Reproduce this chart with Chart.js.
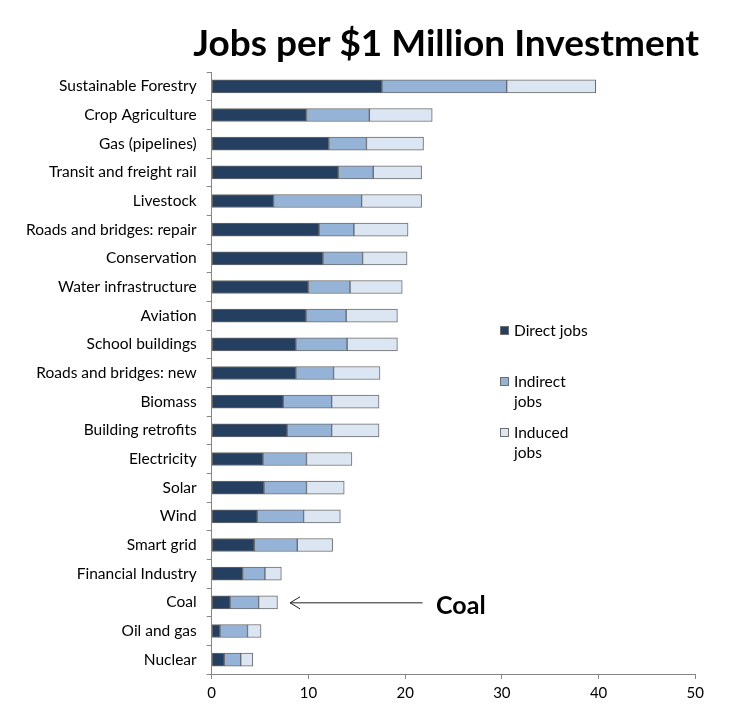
<!DOCTYPE html>
<html>
<head>
<meta charset="utf-8">
<script src="https://cdn.jsdelivr.net/npm/chart.js@4/dist/chart.umd.min.js"></script>
<style>
html,body{margin:0;padding:0;background:#fff;}
#wrap{width:732px;height:722px;position:relative;}
</style>
</head>
<body>
<div id="wrap"><canvas id="c"></canvas></div>
<script>
const categories = ["Sustainable Forestry","Crop Agriculture","Gas (pipelines)","Transit and freight rail","Livestock","Roads and bridges: repair","Conservation","Water infrastructure","Aviation","School buildings","Roads and bridges: new","Biomass","Building retrofits","Electricity","Solar","Wind","Smart grid","Financial Industry","Coal","Oil and gas","Nuclear"];
const directJobs   = [17.6, 9.8, 12.1, 13.1, 6.4, 11.1, 11.5, 10.0, 9.75, 8.7, 8.7, 7.4, 7.8, 5.3, 5.4, 4.7, 4.4, 3.2, 1.9, 0.85, 1.3];
const indirectJobs = [12.9, 6.5, 3.9, 3.6, 9.1, 3.6, 4.1, 4.3, 4.15, 5.3, 3.9, 5.0, 4.6, 4.5, 4.4, 4.8, 4.45, 2.3, 2.95, 2.85, 1.7];
const inducedJobs  = [9.2, 6.5, 5.9, 5.0, 6.2, 5.6, 4.6, 5.4, 5.3, 5.2, 4.8, 4.9, 4.9, 4.7, 3.9, 3.8, 3.65, 1.7, 1.95, 1.4, 1.25];
const xTicks = [0, 10, 20, 30, 40, 50];
const seriesNames = ["Direct jobs", "Indirect jobs", "Induced jobs"];
const legendLines = [["Direct jobs"], ["Indirect", "jobs"], ["Induced", "jobs"]];
const titleText = "Jobs per $1 Million Investment";
const noteText = "Coal";
const noteCategory = "Coal";
const noteArrowFrom = 21.8;
const noteArrowTo = 8.1;
const noteTextAt = 23.2;

const colors = ["#243F60", "#95B3D7", "#DCE6F2"];
const FONT = "Lato, 'Open Sans', sans-serif";

const overlay = {
  id: 'overlay',
  afterDraw(chart) {
    const ctx = chart.ctx;
    const xs = chart.scales.x, ys = chart.scales.y;
    ctx.save();
    // title
    let size = 36;
    ctx.font = "bold " + size + "px " + FONT;
    const target = 506;
    const w = ctx.measureText(titleText).width;
    size = size * target / w;
    ctx.font = "bold " + size.toFixed(2) + "px " + FONT;
    ctx.fillStyle = "#000";
    ctx.textAlign = "right";
    ctx.textBaseline = "alphabetic";
    ctx.fillText(titleText, 699, 56);

    // legend
    ctx.textAlign = "left";
    ctx.textBaseline = "middle";
    ctx.font = "15.5px " + FONT;
    const ly = [331, 382, 433];
    for (let i = 0; i < 3; i++) {
      ctx.fillStyle = colors[i];
      ctx.fillRect(500, ly[i] - 5, 9, 9);
      ctx.strokeStyle = "#6e6e6e";
      ctx.lineWidth = 1;
      ctx.strokeRect(500.5, ly[i] - 4.5, 8, 8);
      ctx.fillStyle = "#000";
      legendLines[i].forEach((t, k) => ctx.fillText(t, 514, ly[i] + k * 20));
    }

    // annotation arrow
    const idx = categories.indexOf(noteCategory);
    const yy = ys.getPixelForValue(idx) + 0.5;
    const x1 = xs.getPixelForValue(noteArrowFrom);
    const x2 = xs.getPixelForValue(noteArrowTo);
    ctx.strokeStyle = "#222";
    ctx.lineWidth = 1;
    ctx.beginPath();
    ctx.moveTo(x1, yy);
    ctx.lineTo(x2, yy);
    ctx.moveTo(x2 + 10, yy - 6);
    ctx.lineTo(x2, yy);
    ctx.lineTo(x2 + 10, yy + 6);
    ctx.stroke();
    ctx.font = "bold 25px " + FONT;
    ctx.fillStyle = "#000";
    ctx.textBaseline = "middle";
    ctx.fillText(noteText, xs.getPixelForValue(noteTextAt), yy + 3);
    ctx.restore();
  }
};

new Chart(document.getElementById('c'), {
  type: 'bar',
  data: {
    labels: categories,
    datasets: [directJobs, indirectJobs, inducedJobs].map((d, i) => ({
      label: seriesNames[i],
      data: d,
      backgroundColor: colors[i],
      borderColor: "#6b6b6b",
      borderWidth: 1,
      borderSkipped: false,
      barThickness: 13,
      categoryPercentage: 1,
      barPercentage: 0.45
    }))
  },
  options: {
    indexAxis: 'y',
    responsive: true,
    maintainAspectRatio: false,
    animation: false,
    layout: { padding: { top: 72, right: 36.7, bottom: 0, left: 0 } },
    plugins: { legend: { display: false }, title: { display: false }, tooltip: { enabled: false } },
    scales: {
      x: {
        stacked: true,
        min: 0, max: 50,
        afterBuildTicks(s) { s.ticks = xTicks.map(v => ({ value: v })); },
        afterFit(s) { s.height = 48; },
        grid: { drawOnChartArea: false, drawTicks: true, tickLength: 5, color: "#868686" },
        border: { color: "#868686", width: 1 },
        ticks: { color: "#000", font: { family: FONT, size: 15 }, padding: 5, maxRotation: 0 }
      },
      y: {
        stacked: true,
        afterFit(s) { s.width = 211.7; },
        grid: { offset: true, drawOnChartArea: false, drawTicks: true, tickLength: 5, color: "#868686" },
        border: { color: "#868686", width: 1 },
        ticks: { color: "#000", font: { family: FONT, size: 15.5 }, padding: 10, autoSkip: false }
      }
    }
  },
  plugins: [overlay]
});
</script>
</body>
</html>
